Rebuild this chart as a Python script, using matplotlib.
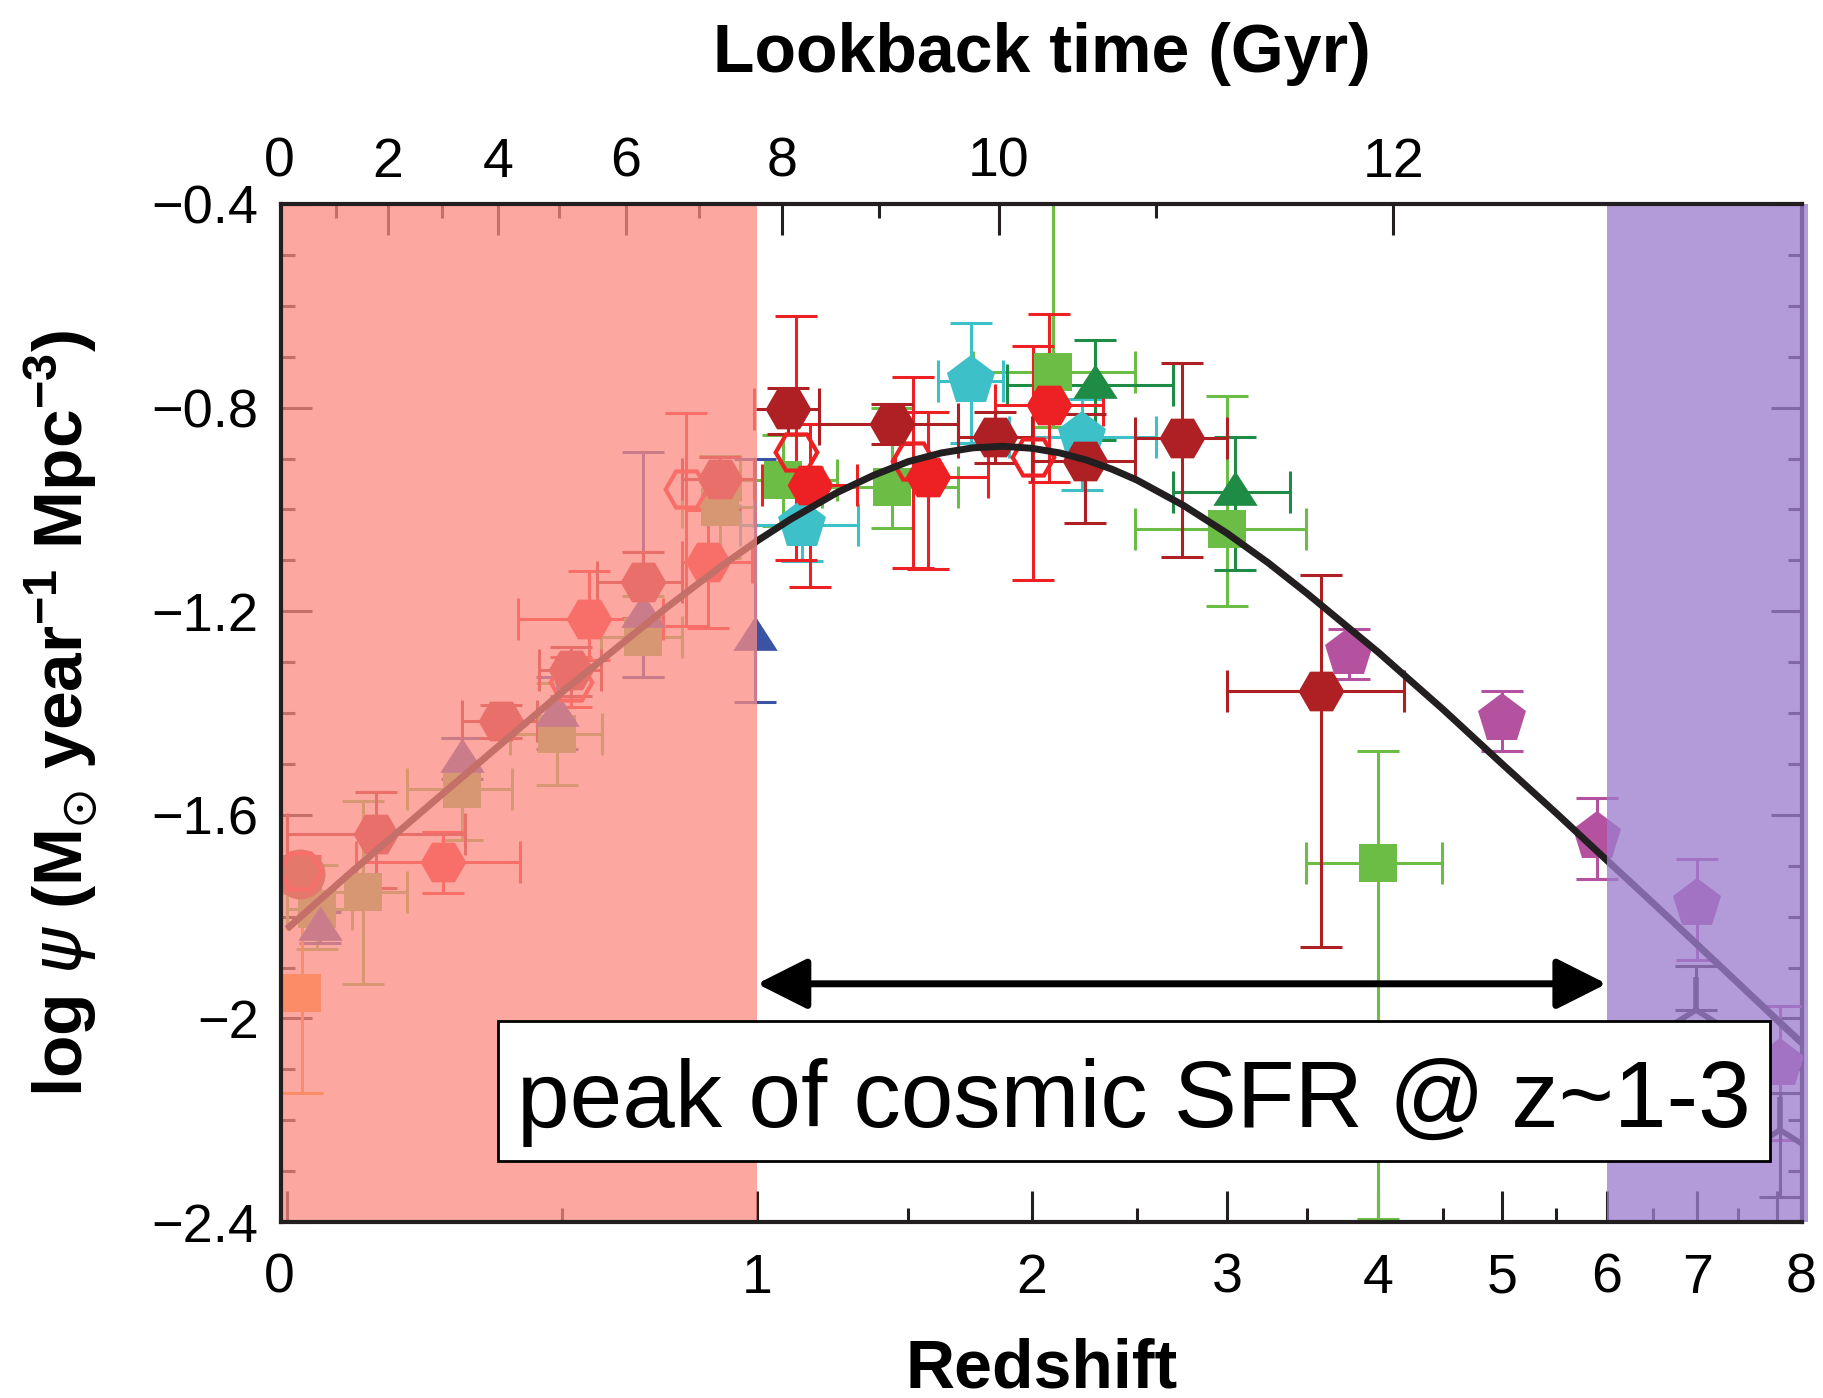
import numpy as np
import matplotlib
matplotlib.use('Agg')
import matplotlib.pyplot as plt
from matplotlib.patches import Rectangle
from matplotlib import font_manager
from matplotlib.transforms import ScaledTranslation

# ------------------------------------------------------------------ data
# best-fit cosmic SFR density curve
z_fit = [0, 0.1, 0.25, 0.5, 0.75, 0.9, 1.0, 1.1, 1.25, 1.375, 1.5, 1.625, 1.75,
         1.875, 2.0, 2.125, 2.25, 2.375, 2.5, 2.75, 3.0, 3.25, 3.5, 4.0, 4.5,
         5.0, 5.5, 6.0, 6.5, 7.0, 7.5, 8.0, 8.4]
logpsi_fit = [-1.824, -1.712, -1.566, -1.359, -1.193, -1.110, -1.062, -1.020,
              -0.967, -0.933, -0.906, -0.889, -0.879, -0.876, -0.880, -0.889,
              -0.903, -0.921, -0.942, -0.992, -1.047, -1.105, -1.165, -1.281,
              -1.393, -1.500, -1.597, -1.689, -1.774, -1.855, -1.931, -2.003,
              -2.057]

# dark-red filled hexagons
dkred_z = [0.141, 0.372, 0.52, 0.69, 0.894, 1.094, 1.44, 1.84, 2.244, 2.741, 3.594]
dkred_psi = [-1.637, -1.415, -1.316, -1.143, -0.940, -0.802, -0.832, -0.858, -0.904, -0.859, -1.356]
dkred_zlo = [0.0, 0.294, 0.45, 0.58, 0.79, 0.99, 1.19, 1.69, 2.0, 2.49, 3.0]
dkred_zhi = [0.30, 0.445, 0.59, 0.79, 0.99, 1.19, 1.69, 2.0, 2.49, 3.0, 4.195]
dkred_elo = [0.107, 0.035, 0.05, 0.07, 0.06, 0.05, 0.04, 0.05, 0.122, 0.235, 0.504]
dkred_ehi = [0.082, 0.03, 0.046, 0.06, 0.043, 0.04, 0.04, 0.05, 0.092, 0.146, 0.228]

# bright-red filled hexagons
red_z = [0.258, 0.56, 0.861, 1.162, 1.575, 2.074]
red_psi = [-1.693, -1.215, -1.104, -0.953, -0.937, -0.794]
red_zlo = [0.107, 0.405, 0.79, 1.014, 1.45, 1.84]
red_zhi = [0.409, 0.742, 0.985, 1.316, 1.81, 2.33]
red_elo = [0.06, 0.08, 0.129, 0.2, 0.181, 0.152]
red_ehi = [0.06, 0.094, 0.102, 0.12, 0.128, 0.178]

# open red hexagons
ored_z = [0.02, 0.52, 0.80, 1.118, 1.518, 2.005]
ored_psi = [-1.71, -1.339, -0.96, -0.887, -0.904, -0.897]
ored_elo = [0.03, 0.05, 0.27, 0.213, 0.212, 0.242]
ored_ehi = [0.03, 0.05, 0.15, 0.266, 0.164, 0.218]

# cyan pentagons
cyan_z = [1.137, 1.742, 2.228]
cyan_psi = [-1.031, -0.747, -0.858]
cyan_zlo = [0.95, 1.613, 1.9]
cyan_zhi = [1.322, 1.875, 2.6]
cyan_elo = [0.071, 0.123, 0.103]
cyan_ehi = [0.06, 0.114, 0.075]

# light-green squares
lgreen_z = [0.045, 0.119, 0.294, 0.49, 0.691, 0.894, 1.078, 1.439, 2.096, 2.999, 4.0]
lgreen_psi = [-1.785, -1.752, -1.549, -1.441, -1.251, -0.995, -0.943, -0.956, -0.730, -1.038, -1.694]
lgreen_zlo = [0.0, 0.05, 0.193, 0.39, 0.59, 0.79, 0.95, 1.2, 1.75, 2.49, 3.49]
lgreen_zhi = [0.1, 0.193, 0.393, 0.591, 0.79, 0.99, 1.25, 1.69, 2.49, 3.49, 4.49]
lgreen_elo = [0.078, 0.18, 0.1, 0.1, 0.078, 0.1, 0.09, 0.08, 0.108, 0.151, 0.7]
lgreen_ehi = [0.087, 0.18, 0.1, 0.1, 0.08, 0.1, 0.09, 0.155, 0.5, 0.26, 0.219]

# dark-green triangles
dgreen_z = [2.292, 3.044]
dgreen_psi = [-0.755, -0.966]
dgreen_zlo = [1.893, 2.692]
dgreen_zhi = [2.692, 3.388]
dgreen_elo = [0.108, 0.154]
dgreen_ehi = [0.088, 0.108]

# blue triangles
blue_z = [0.05, 0.294, 0.49, 0.69, 0.993]
blue_psi = [-1.821, -1.49, -1.40, -1.205, -1.251]
blue_elo = [0.03, 0.04, 0.07, 0.125, 0.128]
blue_ehi = [0.03, 0.04, 0.07, 0.318, 0.35]

# magenta pentagons
mag_z = [3.784, 4.998, 5.897, 6.993, 8.04]
mag_psi = [-1.283, -1.411, -1.644, -1.775, -2.089]
mag_elo = [0.05, 0.064, 0.082, 0.111, 0.15]
mag_ehi = [0.049, 0.055, 0.077, 0.089, 0.114]

# orange square, brown circle, black star symbols
orange_z = [0.022]
orange_psi = [-1.951]
orange_elo = [0.196]
orange_ehi = [0.197]

circ_z = [0.019]
circ_psi = [-1.716]
circ_elo = [0.03]
circ_ehi = [0.03]

star_z = [6.99, 8.04]
star_psi = [-1.984, -2.22]
star_elo = [0.0, 0.131]
star_ehi = [0.087, 0.073]

# axis ticks
z_major = [0, 1, 2, 3, 4, 5, 6, 7, 8]
z_minor = [0.5, 1.5, 2.5, 3.5, 4.5, 5.5, 6.5, 7.5]
lookback_major = [0, 2, 4, 6, 8, 10, 12]
lookback_minor = [1, 3, 5, 7, 9, 11]
y_major = [-2.4, -2.0, -1.6, -1.2, -0.8, -0.4]
y_major_labels = ['\u22122.4', '\u22122', '\u22121.6', '\u22121.2', '\u22120.8', '\u22120.4']
y_minor = [-2.3, -2.2, -2.1, -1.9, -1.8, -1.7, -1.5, -1.4, -1.3, -1.1, -1.0, -0.9, -0.7, -0.6, -0.5]

# cosmology for the lookback-time axis
H0 = 70.0
Om = 0.3
OL = 0.7

# ------------------------------------------------------------------ fonts
avail = {f.name for f in font_manager.fontManager.ttflist}
NARROW = 'Liberation Sans Narrow' if 'Liberation Sans Narrow' in avail else 'Liberation Sans'
SANS = 'Liberation Sans'
plt.rcParams['font.family'] = [SANS, 'DejaVu Sans']
plt.rcParams['mathtext.default'] = 'regular'

INK = '#231F20'

W, H = 1823, 1398
fig = plt.figure(figsize=(W / 100, H / 100), dpi=100)
ax_l, ax_r, ax_t, ax_b = 281, 1802, 204, 1222
ax = fig.add_axes([ax_l / W, 1 - ax_b / H, (ax_r - ax_l) / W, (ax_b - ax_t) / H])

lx = lambda z: np.log10(1 + np.asarray(z, dtype=float))
XMIN, XMAX = -0.00384, 0.9702
ax.set_xlim(XMIN, XMAX)
ax.set_ylim(-2.4, -0.4)

EL = 2.2
CAP = 15


def series(z, psi, elo, ehi, zlo=None, zhi=None, marker='H', ms=31, color='k',
           mfc=None, mew=0.0, zo=3):
    x = lx(z)
    if zlo is not None:
        xerr = [x - lx(zlo), lx(zhi) - x]
    else:
        xerr = None
    ax.errorbar(x, psi, yerr=[elo, ehi], xerr=xerr, fmt='none', ecolor=color,
                elinewidth=EL, capsize=CAP, capthick=EL, zorder=zo)
    ax.plot(x, psi, ls='none', marker=marker, ms=ms,
            mfc=color if mfc is None else mfc, mec=color, mew=mew, zorder=zo + 0.1)


tri = [(-1, -0.6), (1, -0.6), (0, 0.95), (-1, -0.6)]

series(lgreen_z, lgreen_psi, lgreen_elo, lgreen_ehi, lgreen_zlo, lgreen_zhi,
       marker='s', ms=27, color='#6BBD45')
series(cyan_z, cyan_psi, cyan_elo, cyan_ehi, cyan_zlo, cyan_zhi,
       marker='p', ms=37, color='#3DC0C8')
series(dgreen_z, dgreen_psi, dgreen_elo, dgreen_ehi, dgreen_zlo, dgreen_zhi,
       marker=tri, ms=32, color='#1E8C44')
series(blue_z, blue_psi, blue_elo, blue_ehi, marker=tri, ms=32, color='#3A53A4')
series(orange_z, orange_psi, orange_elo, orange_ehi, marker='s', ms=27, color='#F7941D')
series(circ_z, circ_psi, circ_elo, circ_ehi, marker='o', ms=36, color='#A0402A')
series(ored_z, ored_psi, ored_elo, ored_ehi, marker='H', ms=30, color='#ED2024',
       mfc='none', mew=3.0)
series(red_z, red_psi, red_elo, red_ehi, red_zlo, red_zhi,
       marker='H', ms=33, color='#ED2024')
series(dkred_z, dkred_psi, dkred_elo, dkred_ehi, dkred_zlo, dkred_zhi,
       marker='H', ms=33, color='#AE2024')
series(mag_z, mag_psi, mag_elo, mag_ehi, marker='p', ms=37, color='#B5529F')
ax.errorbar(lx(star_z), star_psi, yerr=[star_elo, star_ehi], fmt='none', ecolor=INK,
            elinewidth=EL, capsize=CAP, capthick=EL, zorder=3)
ax.plot(lx(star_z), star_psi, ls='none', marker='2', ms=48, mew=4, color=INK, zorder=3.1)

# best-fit curve
ax.plot(lx(z_fit), logpsi_fit, color=INK, lw=5, zorder=4, solid_capstyle='butt')

# shaded redshift ranges (drawn over the data, translucent)
ax.axvspan(XMIN, np.log10(2), color='#FC8B82', alpha=0.75, lw=0, zorder=5)
ax.axvspan(np.log10(7), XMAX + 0.004, color='#9D7DCD', alpha=0.775, lw=0,
           zorder=5, clip_on=False)

# double arrow z=1 .. z=6
ax.annotate('', xy=(np.log10(7), -1.932), xytext=(np.log10(2), -1.932),
            arrowprops=dict(arrowstyle='<|-|>,head_length=1.55,head_width=0.78',
                            lw=5, color='black', shrinkA=0, shrinkB=0,
                            mutation_scale=20), zorder=6)

# annotation box
bx0 = (497.6 - ax_l) / (ax_r - ax_l)
bx1 = (1770 - ax_l) / (ax_r - ax_l)
by0 = (ax_b - 1161) / (ax_b - ax_t)
by1 = (ax_b - 1021) / (ax_b - ax_t)
ax.add_patch(Rectangle((bx0, by0), bx1 - bx0, by1 - by0, transform=ax.transAxes,
                       facecolor='white', edgecolor='black', lw=2.0, zorder=7))
ax.text((bx0 + bx1) / 2, (ax_b - 1127) / (ax_b - ax_t), 'peak of cosmic SFR @ z~1-3',
        transform=ax.transAxes, ha='center', va='baseline', fontsize=68,
        family=[SANS, 'DejaVu Sans'], color='black', zorder=8)

# ---------------- axes styling
for side in ['left', 'top', 'bottom']:
    ax.spines[side].set_linewidth(3)
    ax.spines[side].set_color(INK)
    ax.spines[side].set_zorder(10)
ax.spines['right'].set_linewidth(3)
ax.spines['right'].set_color(INK)
ax.spines['right'].set_zorder(2)

ax.set_xticks(lx(z_major))
ax.set_xticklabels([str(v) for v in z_major])
ax.set_xticks(lx(z_minor), minor=True)
ax.set_yticks(y_major)
ax.set_yticklabels(y_major_labels)
ax.set_yticks(y_minor, minor=True)

ax.tick_params(axis='both', which='both', direction='in', color=INK, width=2.2)
ax.tick_params(axis='both', which='major', length=22)
ax.tick_params(axis='both', which='minor', length=10)
ax.tick_params(axis='y', which='both', left=True, right=True, labelright=False)
ax.tick_params(axis='x', which='both', top=False, bottom=True)
ax.tick_params(axis='y', which='major', labelsize=39, pad=16)
ax.tick_params(axis='x', which='major', labelsize=40, pad=22)
for lab in ax.get_xticklabels():
    lab.set_family([NARROW, 'DejaVu Sans'])

# ---------------- top lookback-time axis
zz = np.linspace(0, 12, 40001)
integrand = 1.0 / ((1 + zz) * np.sqrt(Om * (1 + zz) ** 3 + OL))
tH = 977.8 / H0
tL = tH * np.concatenate([[0], np.cumsum(0.5 * (integrand[1:] + integrand[:-1]) * np.diff(zz))])
z_of_t = lambda t: np.interp(t, tL, zz)

ax2 = ax.twiny()
ax2.set_zorder(ax.get_zorder() - 1)
ax.patch.set_visible(False)
ax2.set_xlim(XMIN, XMAX)
ax2.set_xticks(lx(z_of_t(lookback_major)))
ax2.set_xticklabels([str(v) for v in lookback_major])
ax2.set_xticks(lx(z_of_t(lookback_minor)), minor=True)
ax2.tick_params(axis='x', which='both', direction='in', color=INK, width=2.2)
ax2.tick_params(axis='x', which='major', length=22, labelsize=40, pad=11)
ax2.tick_params(axis='x', which='minor', length=10)
ax2.xaxis.get_major_ticks()[0].tick2line.set_visible(False)
ax2.xaxis.get_major_ticks()[0].tick1line.set_visible(False)
for lab in ax2.get_xticklabels():
    lab.set_family([NARROW, 'DejaVu Sans'])
for s in ax2.spines.values():
    s.set_visible(False)

# small horizontal nudges of the end labels, as in the original layout
def nudge(tick_label, dx_px):
    tick_label.set_transform(tick_label.get_transform() +
                             ScaledTranslation(dx_px / 100, 0, fig.dpi_scale_trans))

bt = ax.xaxis.get_major_ticks()
nudge(bt[0].label1, -8)
nudge(bt[-1].label1, 24)
tt = ax2.xaxis.get_major_ticks()
nudge(tt[0].label2, -8)

# ---------------- axis titles
ax.set_xlabel('Redshift', fontsize=49, fontweight='bold')
ax.xaxis.set_label_coords(0.5, (ax_b - 1387) / (ax_b - ax_t))
ax.xaxis.label.set_va('baseline')

ax2.set_xlabel('Lookback time (Gyr)', fontsize=49, fontweight='bold')
ax2.xaxis.set_label_coords(0.5, (ax_b - 72) / (ax_b - ax_t))
ax2.xaxis.label.set_va('baseline')

ax.set_ylabel(r'log $\mathit{\psi}$ (M$_{\odot}$ year$^{-1}$ Mpc$^{-3}$)', fontsize=50,
              fontweight='bold')
ax.yaxis.set_label_coords((61 - ax_l) / (ax_r - ax_l), 0.5)
ax.yaxis.label.set_va('center')
ax.yaxis.label.set_ha('center')

fig.savefig('out.png', dpi=100, facecolor='white')
